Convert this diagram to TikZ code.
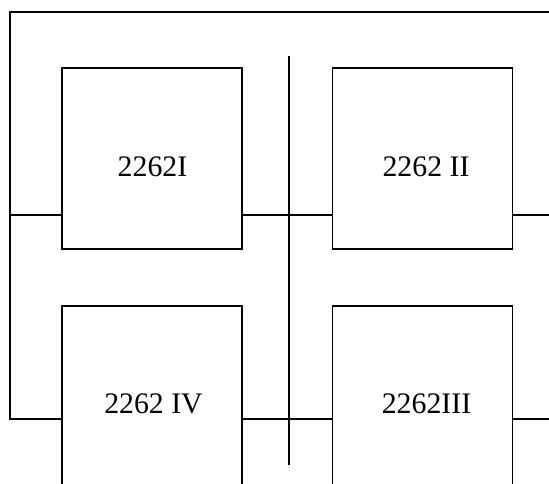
\documentclass[tikz,border=0pt]{standalone}
\usepackage{fontspec}
\setmainfont{Liberation Serif}
\begin{document}
\begin{tikzpicture}[x=1pt,y=-1pt,
  line width=1.3pt,
  unit/.style={draw=black, minimum width=180pt, minimum height=181pt, inner sep=0pt, outer sep=0pt},
  lbl/.style={anchor=base, inner sep=0pt, font=\fontsize{29.8}{36}\selectfont},
  wire/.style={draw=black, line width=1.3pt},
  bus/.style={draw=black, line width=1.6pt}]
\useasboundingbox (0,0) rectangle (549,483);
\clip (0,0) rectangle (549,483);
\node[unit] (b1) at (152,158.5) {};
\node[unit] (b2) at (422.5,158.5) {};
\node[unit] (b3) at (152,396.5) {};
\node[unit] (b4) at (422.5,396.5) {};
\node[lbl] (t1) at (152.5,176) {2262I};
\node[lbl] (t2) at (426,176) {2262 II};
\node[lbl] (t3) at (153.5,413) {2262 IV};
\node[lbl] (t4) at (426.5,413) {2262III};
\coordinate (TL) at (10,12);
\coordinate (TR) at (549,12);
\coordinate (BL) at (10,419);
\coordinate (r1) at (0,215);
\coordinate (vt) at (289,56);
\coordinate (vb) at (289,465);
\draw[wire] (TR) -- (TL) -- (BL) -- (b3.west |- BL);
\draw[wire] (TL |- r1) -- (b1.west |- r1);
\draw[wire] (b1.east |- r1) -- (b2.west |- r1);
\draw[wire] (b2.east |- r1) -- (TR |- r1);
\draw[wire] (b3.east |- BL) -- (b4.west |- BL);
\draw[wire] (b4.east |- BL) -- (TR |- BL);
\draw[bus] (vt) -- (vb);
\end{tikzpicture}
\end{document}
